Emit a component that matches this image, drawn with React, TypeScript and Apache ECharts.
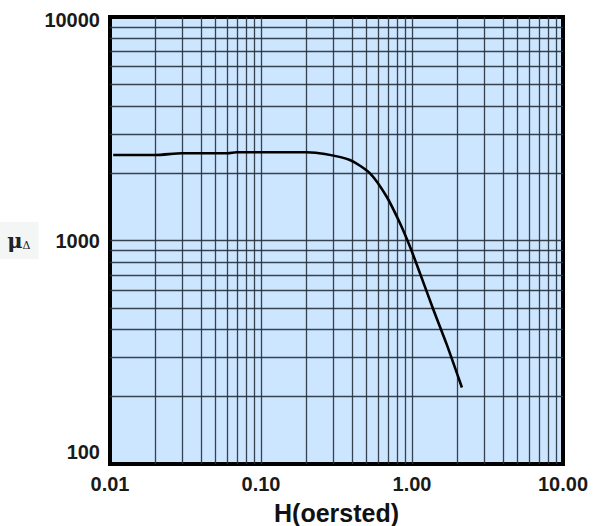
import React, { useEffect, useRef } from "react";
import * as echarts from "echarts";

// Curve data: H (oersted) vs incremental permeability
const hValues = [0.0105, 0.02, 0.03, 0.06, 0.069, 0.2, 0.265, 0.388, 0.527, 0.68, 0.833, 0.97, 1.13, 1.38, 1.7, 2.14];
const muValues = [2413, 2413, 2456, 2456, 2481, 2481, 2438, 2292, 1998, 1570, 1194, 937, 713, 494, 342, 220];

// Grid lines (log decades)
const xGridValues = [0.02, 0.03, 0.04, 0.05, 0.06, 0.07, 0.08, 0.09, 0.1, 0.2, 0.3, 0.4, 0.5, 0.6, 0.7, 0.8, 0.9, 1, 2, 3, 4, 5, 6, 7, 8, 9];
const yGridValues = [200, 300, 400, 500, 600, 700, 800, 900, 1000, 2000, 3000, 4000, 5000, 6000, 7000, 8000, 9000];

// Tick labels
const xTickLabels: Record<string, string> = { "0.01": "0.01", "0.1": "0.10", "1": "1.00", "10": "10.00" };
const yTickLabels: Record<string, string> = { "100": "{lo|100}", "1000": "1000", "10000": "{hi|10000}" };

const FONT = "'Liberation Sans', Arial, Helvetica, sans-serif";
const SERIF = "'DejaVu Serif', 'Liberation Serif', serif";

export default function App() {
  const ref = useRef<HTMLDivElement>(null);
  useEffect(() => {
    if (!ref.current) return;
    const chart = echarts.init(ref.current, null, { renderer: "svg" });
    const gridLineStyle = { color: "#26313c", width: 1.3, type: "solid" as const, opacity: 0.9 };
    const markData: any[] = [
      ...xGridValues.map((v) => ({ xAxis: v })),
      ...yGridValues.map((v) => ({ yAxis: v })),
    ];
    chart.setOption({
      animation: false,
      grid: {
        left: 110,
        right: 43,
        top: 17,
        bottom: 62,
        outerBoundsMode: "none",
        containLabel: false,
        show: true,
        backgroundColor: "#cce6ff",
        borderColor: "#000",
        borderWidth: 4,
      },
      xAxis: {
        type: "log",
        logBase: 10,
        min: 0.01,
        max: 10,
        splitLine: { show: false },
        axisLine: { show: false },
        axisTick: { show: false },
        axisLabel: {
          margin: 10,
          fontFamily: FONT,
          fontWeight: "bold",
          fontSize: 20,
          color: "#1a1a1a",
          formatter: (v: number) => {
            const k = String(parseFloat(v.toPrecision(6)));
            return xTickLabels[k] ?? "";
          },
        },
        name: "H(oersted)",
        nameLocation: "middle",
        nameGap: 36,
        nameTextStyle: { fontFamily: FONT, fontWeight: "bold", fontSize: 25, lineHeight: 25, color: "#111" },
      },
      yAxis: {
        type: "log",
        logBase: 10,
        min: 100,
        max: 10000,
        splitLine: { show: false },
        axisLine: { show: false },
        axisTick: { show: false },
        axisLabel: {
          margin: 10,
          fontFamily: FONT,
          fontWeight: "bold",
          fontSize: 20,
          color: "#1a1a1a",
          formatter: (v: number) => {
            const k = String(Math.round(v));
            return yTickLabels[k] ?? "";
          },
          rich: {
            lo: { fontFamily: FONT, fontWeight: "bold", fontSize: 20, color: "#1a1a1a", padding: [0, 0, 24, 0] },
            hi: { fontFamily: FONT, fontWeight: "bold", fontSize: 20, color: "#1a1a1a", padding: [6, 0, 0, 0] },
          },
        },
        name: "{m|μ}{d|Δ}",
        nameLocation: "middle",
        nameRotate: 0,
        nameGap: 64,
        nameTextStyle: {
          backgroundColor: "#f4f5f5",
          padding: [8, 8, 8, 8],
          rich: {
            m: { fontFamily: SERIF, fontSize: 21, fontWeight: "bold", color: "#222", verticalAlign: "bottom" },
            d: { fontFamily: SERIF, fontSize: 11, color: "#222", verticalAlign: "bottom", padding: [7, 0, 0, 0] },
          },
        },
      },
      series: [
        {
          type: "line",
          z: 1,
          data: [[0.01, 100]],
          symbol: "none",
          lineStyle: { opacity: 0 },
          silent: true,
          markLine: {
            silent: true,
            symbol: ["none", "none"],
            label: { show: false },
            lineStyle: gridLineStyle,
            emphasis: { disabled: true },
            data: markData,
          },
        },
        {
          type: "line",
          z: 5,
          data: hValues.map((h, i) => [h, muValues[i]]),
          symbol: "none",
          smooth: 0.25,
          lineStyle: { color: "#000", width: 2.6 },
          silent: true,
        },
      ],
    });
    return () => chart.dispose();
  }, []);
  return (
    <div
      ref={ref}
      style={{ position: "absolute", left: 0, top: 0, width: 606, height: 526 }}
    />
  );
}
